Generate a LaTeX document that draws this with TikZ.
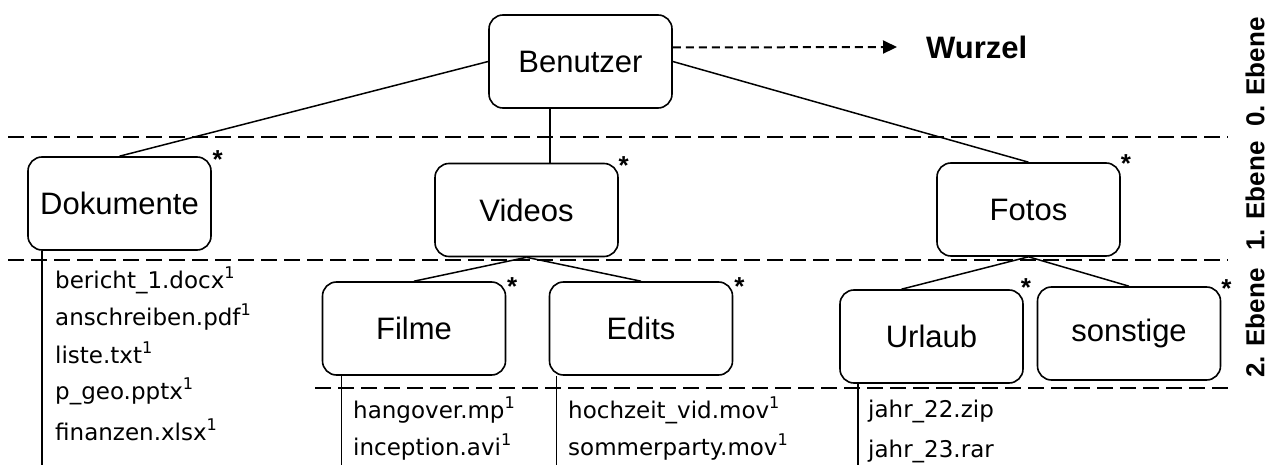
\documentclass[tikz,border=0pt]{standalone}
\usepackage{fontspec}
\setmainfont{Liberation Sans}
\newfontfamily\dateifont{DejaVu Sans}
\usetikzlibrary{arrows.meta}

\begin{document}
\begin{tikzpicture}[x=1pt,y=-1pt,
  ordner/.style={draw, line width=1.6pt, rounded corners=14pt, minimum width=183pt,
    minimum height=93pt, inner sep=0pt, font=\fontsize{31}{37}\selectfont},
  kante/.style={line width=1.5pt},
  ebenenlinie/.style={line width=1.5pt, dash pattern=on 16pt off 7pt},
  pfeil/.style={line width=2pt, dash pattern=on 8pt off 5pt, -{Triangle[length=14pt,width=13pt]}},
  datei/.style={anchor=base west, inner sep=0pt, font=\dateifont\fontsize{23}{27}\selectfont},
  stern/.style={anchor=base, inner sep=0pt, font=\bfseries\fontsize{26}{30}\selectfont},
  ebene/.style={rotate=90, inner sep=0pt, font=\bfseries\fontsize{26}{30}\selectfont}]
  \useasboundingbox (0,0) rectangle (1271,465);

  % Ebenen
  \draw[ebenenlinie] (8,137) -- (1228,137);
  \draw[ebenenlinie] (8,260) -- (1228,260);
  \draw[ebenenlinie] (315,388) -- (1228,388);
  \node[ebene] (e0) at (1255,72) {0. Ebene};
  \node[ebene] (e1) at (1255,196) {1. Ebene};
  \node[ebene] (e2) at (1255,323) {2. Ebene};

  % Ordner
  \node[ordner] (ben) at (580.5,61.5) {Benutzer};
  \node[ordner] (dok) at (119.5,203.5) {Dokumente};
  \node[ordner] (vid) at (526.5,210) {Videos};
  \node[ordner] (fot) at (1028.5,209.5) {Fotos};
  \node[ordner] (fil) at (414,328.5) {Filme};
  \node[ordner] (edi) at (641,328.5) {Edits};
  \node[ordner] (url) at (931.5,336.5) {Urlaub};
  \node[ordner] (son) at (1129,333.5) {sonstige};

  \node[stern] (sdok) at ([shift={(6,12)}]dok.north east) {*};
  \node[stern] (svid) at ([shift={(5,12)}]vid.north east) {*};
  \node[stern] (sfot) at ([shift={(5,10)}]fot.north east) {*};
  \node[stern] (sfil) at ([shift={(6,14)}]fil.north east) {*};
  \node[stern] (sedi) at ([shift={(6,14)}]edi.north east) {*};
  \node[stern] (surl) at ([shift={(2,7)}]url.north east) {*};
  \node[stern] (sson) at ([shift={(5,11)}]son.north east) {*};

  % Wurzel
  \node[anchor=west, inner sep=0pt, font=\bfseries\fontsize{31}{37}\selectfont] (wurzel) at (926,47) {Wurzel};
  \draw[pfeil] ([yshift=14pt]ben.east) -- ([xshift=-29pt]wurzel.west);

  % Kanten
  \coordinate (mv) at (550,0);
  \draw[kante] (ben.west) -- (dok.north);
  \draw[kante] (ben.south -| mv) -- (vid.north -| mv);
  \draw[kante] (ben.east) -- (fot.north);
  \draw[kante] (vid.south) -- (fil.north);
  \draw[kante] (vid.south) -- (edi.north);
  \draw[kante] (fot.south) -- ([xshift=-30pt]url.north);
  \draw[kante] (fot.south) -- (son.north);

  % Dateien
  \draw[kante] ([xshift=15pt]dok.south west) -- ++(0,215);
  \node[datei] (d1) at (55,288) {bericht\_1.docx\textsuperscript{1}};
  \node[datei] (d2) at (55,325) {anschreiben.pdf\textsuperscript{1}};
  \node[datei] (d3) at (55,363) {liste.txt\textsuperscript{1}};
  \node[datei] (d4) at (55,399) {p\_geo.pptx\textsuperscript{1}};
  \node[datei] (d5) at (55,440) {finanzen.xlsx\textsuperscript{1}};

  \draw[kante] ([xshift=20pt]fil.south west) -- ++(0,90);
  \node[datei] (f1) at (353,418) {hangover.mp\textsuperscript{1}};
  \node[datei] (f2) at (353,455) {inception.avi\textsuperscript{1}};

  \draw[kante] ([xshift=8pt]edi.south west) -- ++(0,90);
  \node[datei] (v1) at (568,418) {hochzeit\_vid.mov\textsuperscript{1}};
  \node[datei] (v2) at (568,455) {sommerparty.mov\textsuperscript{1}};

  \draw[kante] ([xshift=19pt]url.south west) -- ++(0,82);
  \node[datei] (u1) at (868,417) {jahr\_22.zip};
  \node[datei] (u2) at (868,457) {jahr\_23.rar};
\end{tikzpicture}
\end{document}
